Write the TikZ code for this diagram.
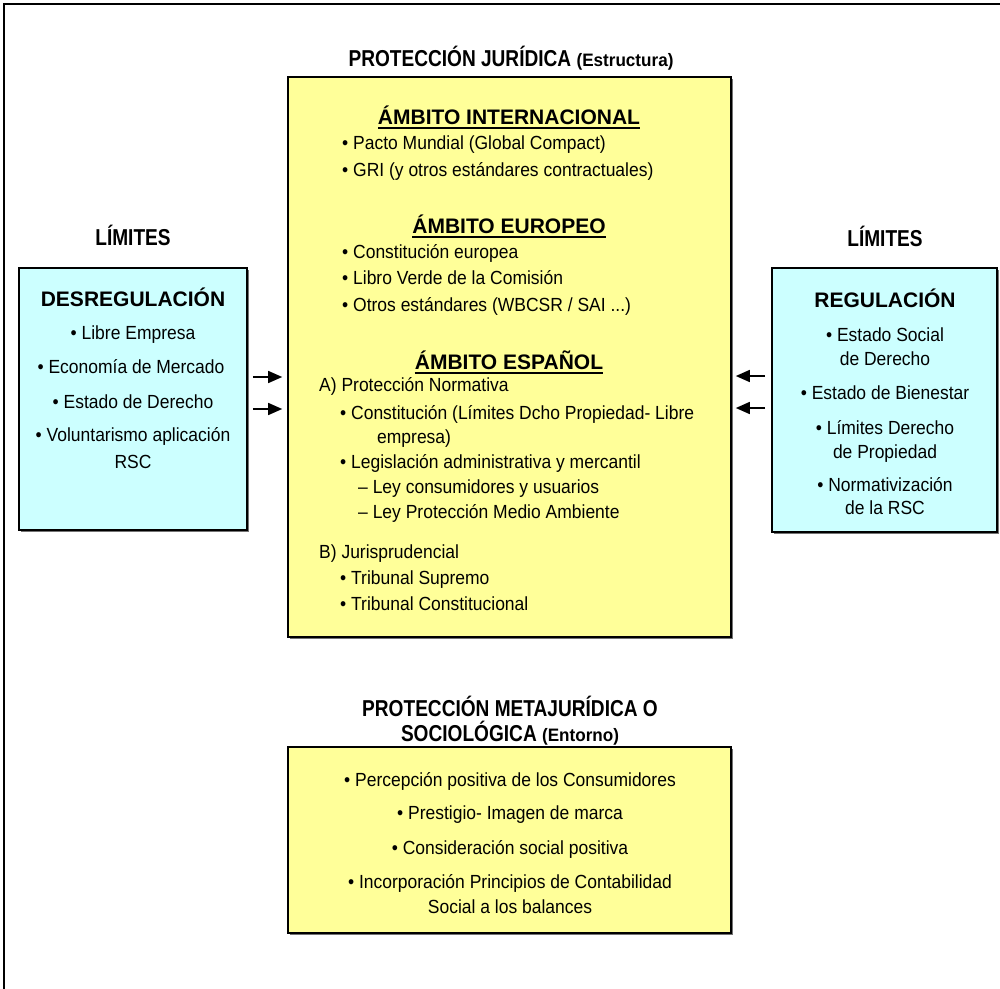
\documentclass[tikz,border=0pt]{standalone}
\usepackage{fontspec}
\setmainfont{Liberation Sans}
\newfontfamily\bodyfam{Liberation Sans}[FakeStretch=0.92]
\newfontfamily\narrowfam{Liberation Sans}[FakeStretch=0.83]
\newfontfamily\parfam{Liberation Sans}[FakeStretch=0.95]
\usetikzlibrary{arrows.meta,shadows}
\definecolor{boxyellow}{RGB}{255,255,153}
\definecolor{boxcyan}{RGB}{204,255,255}
\newcommand{\bodyf}{\bodyfam\fontsize{19}{23}\selectfont}
\newcommand{\headf}{\fontsize{21}{25}\selectfont\bfseries}
\newcommand{\titf}{\narrowfam\fontsize{23}{27}\selectfont\bfseries}
\newcommand{\parf}{\parfam\fontsize{18}{21}\selectfont\bfseries}
\tikzset{
  panel/.style={draw=black, line width=1.6pt, inner sep=0pt,
    drop shadow={shadow xshift=2pt, shadow yshift=-2pt, fill=black!55, opacity=1}},
  ybox/.style={panel, fill=boxyellow},
  cbox/.style={panel, fill=boxcyan},
  itemL/.style={inner sep=0pt, anchor=base west, font=\bodyf},
  itemC/.style={inner sep=0pt, anchor=base, font=\bodyf},
  headC/.style={inner sep=0pt, anchor=base, font=\headf},
  titC/.style={inner sep=0pt, anchor=base, font=\titf},
  ulin/.style={line width=1.8pt},
  arr/.style={line width=1.5pt, -{Triangle[length=14pt,width=12pt]}}
}
\begin{document}
\begin{tikzpicture}[x=1pt,y=-1pt]
\useasboundingbox (0,0) rectangle (1000,988);
% outer frame
\draw[line width=2pt] (4,4) rectangle (1012,1000);

% boxes
\node[ybox, minimum width=443pt, minimum height=560pt] (main) at (509.5,357) {};
\node[cbox, minimum width=228pt, minimum height=262pt] (lbox) at (133,399) {};
\node[cbox, minimum width=225pt, minimum height=264pt] (rbox) at (884.5,400) {};
\node[ybox, minimum width=443pt, minimum height=186pt] (bbox) at (509.5,840) {};

% titles
\node[titC] (tit1) at (511,66) {PROTECCIÓN JURÍDICA {\parf (Estructura)}};
\node[titC] (limL) at (133,245) {LÍMITES};
\node[titC] (limR) at (885,246) {LÍMITES};
\node[titC] (tit2a) at (510,716) {PROTECCIÓN METAJURÍDICA O};
\node[titC] (tit2b) at (510,741) {SOCIOLÓGICA {\parf (Entorno)}};

% main box content
\node[headC] (h1) at (509,124.5) {ÁMBITO INTERNACIONAL};
\draw[ulin] ([yshift=-3.8pt]h1.base west) -- ([yshift=-3.8pt]h1.base east);
\node[itemL] (m1) at (342,149.5) {•\ Pacto Mundial (Global Compact)};
\node[itemL] (m2) at (342,176.5) {•\ GRI (y otros estándares contractuales)};
\node[headC] (h2) at (509,233.5) {ÁMBITO EUROPEO};
\draw[ulin] ([yshift=-3.8pt]h2.base west) -- ([yshift=-3.8pt]h2.base east);
\node[itemL] (m3) at (342,258.5) {•\ Constitución europea};
\node[itemL] (m4) at (342,284.5) {•\ Libro Verde de la Comisión};
\node[itemL] (m5) at (342,311.5) {•\ Otros estándares (WBCSR / SAI ...)};
\node[headC] (h3) at (509,369.5) {ÁMBITO ESPAÑOL};
\draw[ulin] ([yshift=-3.8pt]h3.base west) -- ([yshift=-3.8pt]h3.base east);
\node[itemL] (m6) at (319,391.5) {A) Protección Normativa};
\node[itemL] (m7) at (340,419.5) {•\ Constitución (Límites Dcho Propiedad- Libre};
\node[itemL] (m8) at (377,443.5) {empresa)};
\node[itemL] (m9) at (340,468.5) {•\ Legislación administrativa y mercantil};
\node[itemL] (m10) at (358,493.5) {– Ley consumidores y usuarios};
\node[itemL] (m11) at (358,518.5) {– Ley Protección Medio Ambiente};
\node[itemL] (m12) at (319,558.5) {B) Jurisprudencial};
\node[itemL] (m13) at (340,584.5) {•\ Tribunal Supremo};
\node[itemL] (m14) at (340,610.5) {•\ Tribunal Constitucional};

% left box content
\node[headC] (lh) at (133,306.5) {DESREGULACIÓN};
\node[itemC] (l1) at (133,339.5) {•\ Libre Empresa};
\node[itemC] (l2) at (131,373.5) {•\ Economía de Mercado};
\node[itemC] (l3) at (133,408.5) {•\ Estado de Derecho};
\node[itemC] (l4) at (133,441.5) {•\ Voluntarismo aplicación};
\node[itemC] (l5) at (133,468.5) {RSC};

% right box content
\node[headC] (rh) at (885,307.5) {REGULACIÓN};
\node[itemC] (r1) at (885,341.5) {•\ Estado Social};
\node[itemC] (r2) at (885,365.5) {de Derecho};
\node[itemC] (r3) at (885,399.5) {•\ Estado de Bienestar};
\node[itemC] (r4) at (885,434.5) {•\ Límites Derecho};
\node[itemC] (r5) at (885,458.5) {de Propiedad};
\node[itemC] (r6) at (885,491.5) {•\ Normativización};
\node[itemC] (r7) at (885,514.5) {de la RSC};

% bottom box content
\node[itemC] (b1) at (510,786.5) {•\ Percepción positiva de los Consumidores};
\node[itemC] (b2) at (510,819.5) {•\ Prestigio- Imagen de marca};
\node[itemC] (b3) at (510,854.5) {•\ Consideración social positiva};
\node[itemC] (b4) at (510,888.5) {•\ Incorporación Principios de Contabilidad};
\node[itemC] (b5) at (510,913.5) {Social a los balances};

% arrows
\draw[arr] ([xshift=5pt]lbox.east |- 0,377) -- ([xshift=-5pt]main.west |- 0,377);
\draw[arr] ([xshift=5pt]lbox.east |- 0,409) -- ([xshift=-5pt]main.west |- 0,409);
\draw[arr] ([xshift=-6pt]rbox.west |- 0,376) -- ([xshift=4pt]main.east |- 0,376);
\draw[arr] ([xshift=-6pt]rbox.west |- 0,408) -- ([xshift=4pt]main.east |- 0,408);
\end{tikzpicture}
\end{document}
